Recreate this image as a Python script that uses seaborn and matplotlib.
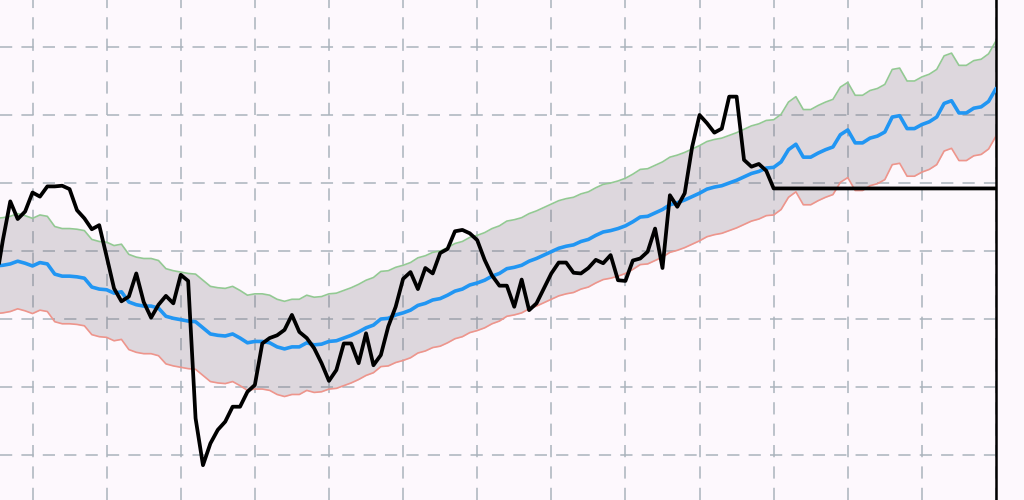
import numpy as np
import pandas as pd
import matplotlib.pyplot as plt
import seaborn as sns

# day index (grid every 10 days)
days = np.arange(-5, 131)

forecast_mean = [17.8, 17.9, 18.1, 18.5, 18.2,
                 17.8, 18.3, 18.1, 16.6, 16.3, 16.3, 16.2, 16.0, 14.7, 14.4,
                 14.3, 13.8, 14.0, 12.5, 12.1, 11.9, 11.9, 11.6, 10.4, 10.1,
                 9.9, 9.7, 9.6, 8.7, 7.8, 7.6, 7.5, 7.8, 7.2, 6.5,
                 6.7, 6.7, 6.5, 5.9, 5.6, 5.9, 5.9, 6.5, 6.2, 6.3,
                 6.7, 6.8, 7.2, 7.6, 8.1, 8.7, 9.1, 10.0, 10.1, 10.6,
                 10.9, 11.3, 12.0, 12.3, 12.8, 13.0, 13.5, 14.1, 14.4, 15.0,
                 15.3, 15.7, 16.3, 16.7, 17.4, 17.6, 17.9, 18.5, 18.9, 19.4,
                 19.9, 20.4, 20.7, 20.9, 21.4, 21.7, 22.3, 22.8, 23.0, 23.3,
                 23.7, 24.3, 25.0, 25.1, 25.6, 26.1, 26.8, 27.1, 27.5, 28.0,
                 28.5, 29.1, 29.4, 29.6, 30.0, 30.4, 30.9, 31.4, 31.7, 32.2,
                 32.3, 33.1, 34.9, 35.7, 33.8, 33.8, 34.4, 34.9, 35.3, 37.1,
                 37.8, 35.9, 35.9, 36.6, 36.9, 37.5, 39.7, 39.9, 38.0, 38.0,
                 38.6, 39.0, 39.7, 41.7, 42.1, 40.3, 40.3, 41.0, 41.2, 42.0,
                 43.9]

actual = [15.0, 21.6, 27.3, 24.7, 25.8,
          28.6, 28.0, 29.5, 29.5, 29.6, 29.1, 26.0, 24.8, 23.2, 23.8,
          19.2, 14.5, 12.6, 13.3, 16.7, 12.5, 10.2, 12.1, 13.4, 12.3,
          16.5, 15.6, -4.6, -11.5, -8.3, -6.3, -5.1, -2.9, -2.9, -0.7,
          0.3, 6.4, 7.2, 7.6, 8.4, 10.6, 8.1, 7.2, 5.7, 3.5,
          0.9, 2.5, 6.4, 6.4, 3.5, 7.9, 3.2, 4.7, 8.9, 11.8,
          15.9, 16.9, 14.4, 17.5, 16.7, 19.7, 20.3, 22.9, 23.1, 22.6,
          21.6, 18.7, 16.4, 14.9, 14.9, 11.8, 15.8, 11.3, 12.3, 14.5,
          16.7, 18.3, 18.3, 16.8, 16.7, 17.5, 18.7, 18.2, 19.4, 15.7,
          15.6, 18.6, 18.9, 19.9, 23.3, 17.5, 28.2, 26.5, 28.5, 35.3,
          40.0, 38.8, 37.4, 38.0, 42.7, 42.7, 33.4, 32.4, 32.8, 31.8,
          29.2, 29.2, 29.2, 29.2, 29.2, 29.2, 29.2, 29.2, 29.2, 29.2,
          29.2, 29.2, 29.2, 29.2, 29.2, 29.2, 29.2, 29.2, 29.2, 29.2,
          29.2, 29.2, 29.2, 29.2, 29.2, 29.2, 29.2, 29.2, 29.2, 29.2,
          29.2]

band_width = 7.0  # half width of the uncertainty band

df = pd.DataFrame({"day": days, "mean": forecast_mean, "actual": actual})
df["upper"] = df["mean"] + band_width
df["lower"] = df["mean"] - band_width

bg = "#fdf8fd"
sns.set_style("white", {"axes.facecolor": bg})

fig = plt.figure(figsize=(10.24, 5.0), dpi=100, facecolor=bg)
ax = fig.add_axes([0, 0, 996 / 1024, 1])
ax.set_facecolor(bg)

ax.fill_between(df["day"], df["lower"], df["upper"], color="#756b75", alpha=0.23, linewidth=0, zorder=1)
sns.lineplot(data=df, x="day", y="upper", ax=ax, color="#93c993", linewidth=1.2, zorder=2)
sns.lineplot(data=df, x="day", y="lower", ax=ax, color="#ee958c", linewidth=1.2, zorder=2)
sns.lineplot(data=df, x="day", y="mean", ax=ax, color="#2196f3", linewidth=2.6, zorder=3)
sns.lineplot(data=df, x="day", y="actual", ax=ax, color="black", linewidth=2.7, zorder=4)

# ticks first, set_xticks would otherwise widen the limits
ax.set_xticks(np.arange(-10, 131, 10))
ax.set_yticks(np.arange(-20, 61, 10))
ax.set_xlim(-32.5 / 7.408, 130)
ax.set_ylim(-113 / 6.8, 387 / 6.8)
ax.grid(True, color="#aab3bc", linewidth=1.1, linestyle=(0, (8, 6)))
ax.set_axisbelow(True)
ax.tick_params(length=0, labelbottom=False, labelleft=False)
ax.set_xlabel("")
ax.set_ylabel("")

for side in ["left", "top", "bottom"]:
    ax.spines[side].set_visible(False)
ax.spines["right"].set_color("black")
ax.spines["right"].set_linewidth(1.8)

fig.savefig("out.png", dpi=100, facecolor=bg)
